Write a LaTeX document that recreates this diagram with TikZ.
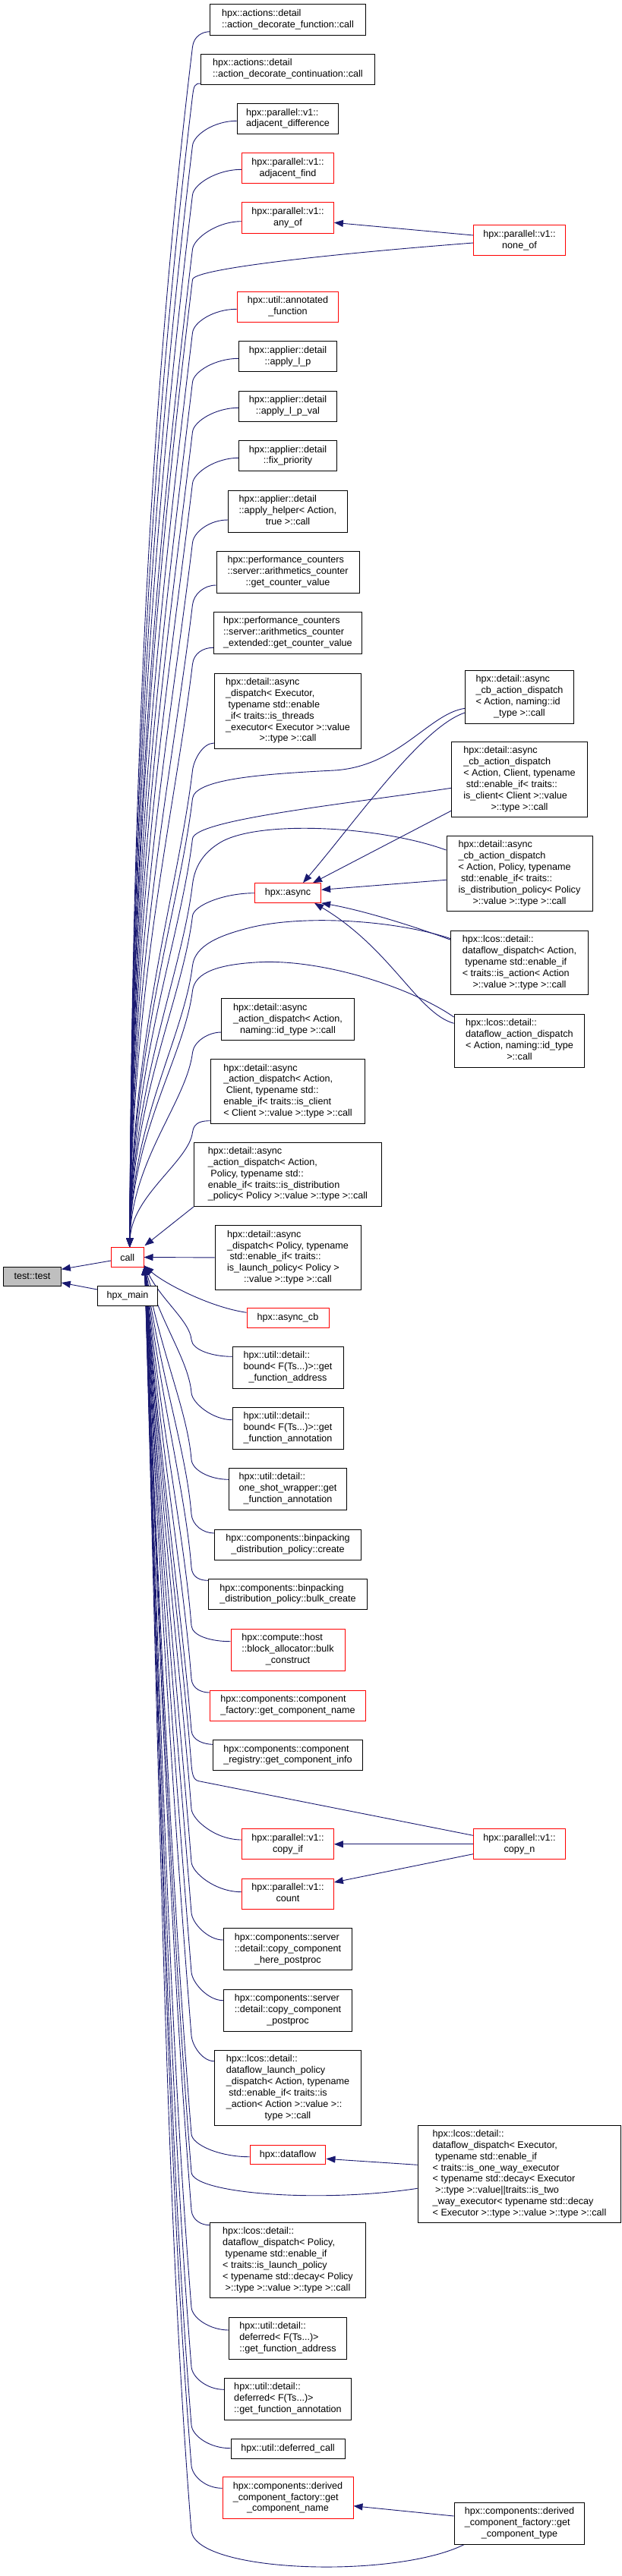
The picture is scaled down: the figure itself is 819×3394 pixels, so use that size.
\documentclass[tikz,border=0pt]{standalone}
\usepackage{fontspec}
\setmainfont{Liberation Sans}
\usetikzlibrary{arrows.meta,calc}
\pgfdeclarelayer{bg}
\pgfsetlayers{bg,main}
\definecolor{edgec}{HTML}{191970}
\definecolor{redc}{HTML}{FF0000}
\definecolor{greyc}{HTML}{BFBFBF}
\newcommand\nf{\fontsize{12.6}{14.9}\selectfont}
\newcommand\lbl[2]{\begin{tabular}{@{}l@{}}#1\\\multicolumn{1}{@{}c@{}}{#2}\end{tabular}}
\newcommand\topT[1]{%
  \pgfmathsetmacro\tD{1643-#1}%
  \pgfmathsetmacro\tCx{253.5-0.03*\tD}%
  \pgfmathsetmacro\tCy{#1+0.25*\tD}%
  \pgfmathsetmacro\tEy{#1+0.55*\tD}%
  \pgfmathsetmacro\tBy{#1-14}}
\newcommand\botT[1]{%
  \pgfmathsetmacro\tD{#1-1669}%
  \pgfmathsetmacro\tCx{252-0.02*\tD}%
  \pgfmathsetmacro\tCy{#1-0.25*\tD}%
  \pgfmathsetmacro\tEy{#1-0.55*\tD}%
  \pgfmathsetmacro\tBy{#1+14}}
\newcommand\upE[4]{%
  \topT{#4}%
  \coordinate (sY) at (0,#2);%
  \draw[conn] (#1.west |- sY) .. controls +(-#3,0) and (255.2,\tBy) .. (253.5,#4) .. controls (\tCx,\tCy) and (174,\tEy) .. (ctop);}
\newcommand\dnE[4]{%
  \botT{#4}%
  \coordinate (sY) at (0,#2);%
  \draw[conn] (#1.west |- sY) .. controls +(-#3,0) and (253.1,\tBy) .. (252,#4) .. controls (\tCx,\tCy) and (212,\tEy) .. (cbot);}
\begin{document}
\begin{tikzpicture}[x=1pt,y=-1pt,
  box/.style={draw=black,line width=1pt,fill=white,inner sep=0pt,font=\nf},
  rbox/.style={box,draw=redc},
  conn/.style={draw=edgec,line width=0.9pt,-{Triangle[length=12pt,width=9pt]}}]
\useasboundingbox (0,0) rectangle (819,3394);
% left
\node[box,fill=greyc,minimum width=75.6pt,minimum height=25.3pt] (tst) at (42.5,1681.7) {test::test};
\node[rbox,minimum width=42.5pt,minimum height=25.6pt] (call) at (167.75,1656.5) {call};
\node[box,minimum width=78.7pt,minimum height=25.7pt] (hmain) at (168,1707.2) {hpx\_main};
% middle column
\node[box,minimum width=204.2pt,minimum height=40.6pt] (a1) at (379,26) {\lbl{hpx::actions::detail}{::action\_decorate\_function::call}};
\node[box,minimum width=228.4pt,minimum height=40.3pt] (a2) at (379,91.2) {\lbl{hpx::actions::detail}{::action\_decorate\_continuation::call}};
\node[box,minimum width=133.9pt,minimum height=40.3pt] (a3) at (379,156.5) {\lbl{hpx::parallel::v1::}{adjacent\_difference}};
\node[rbox,minimum width=120.8pt,minimum height=40.3pt] (a4) at (379,221.8) {\lbl{hpx::parallel::v1::}{adjacent\_find}};
\node[rbox,minimum width=120.8pt,minimum height=40.3pt] (a5) at (379,287) {\lbl{hpx::parallel::v1::}{any\_of}};
\node[rbox,minimum width=133.9pt,minimum height=40pt] (a6) at (379,404.3) {\lbl{hpx::util::annotated}{\_function}};
\node[box,minimum width=129.2pt,minimum height=40.3pt] (a7) at (379,469.8) {\lbl{hpx::applier::detail}{::apply\_l\_p}};
\node[box,minimum width=129.2pt,minimum height=40.3pt] (a8) at (379,535.2) {\lbl{hpx::applier::detail}{::apply\_l\_p\_val}};
\node[box,minimum width=129.2pt,minimum height=40.3pt] (a9) at (379,600.5) {\lbl{hpx::applier::detail}{::fix\_priority}};
\node[box,minimum width=157.4pt,minimum height=55pt] (a10) at (379,673.8) {\lbl{hpx::applier::detail\\::apply\_helper< Action,}{true >::call}};
\node[box,minimum width=188pt,minimum height=55pt] (a11) at (379,753.8) {\lbl{hpx::performance\_counters\\::server::arithmetics\_counter}{::get\_counter\_value}};
\node[box,minimum width=195.2pt,minimum height=55pt] (a12) at (379,833.8) {\lbl{hpx::performance\_counters\\::server::arithmetics\_counter}{\_extended::get\_counter\_value}};
\node[box,minimum width=193.2pt,minimum height=99.3pt] (a13) at (379,936.7) {\lbl{hpx::detail::async\\\_dispatch< Executor,\\\ typename std::enable\\\_if< traits::is\_threads\\\_executor< Executor >::value}{>::type >::call}};
\node[rbox,minimum width=87.2pt,minimum height=25.6pt] (async) at (379,1176.5) {hpx::async};
\node[box,minimum width=174.2pt,minimum height=55pt] (a15) at (379,1343.2) {\lbl{hpx::detail::async\\\_action\_dispatch< Action,}{naming::id\_type >::call}};
\node[box,minimum width=202.6pt,minimum height=84.3pt] (a16) at (379,1437.9) {\lbl{hpx::detail::async\\\_action\_dispatch< Action,\\\ Client, typename std::\\enable\_if< traits::is\_client}{< Client >::value >::type >::call}};
\node[box,minimum width=246.8pt,minimum height=84.3pt] (a17) at (379,1547.2) {\lbl{hpx::detail::async\\\_action\_dispatch< Action,\\\ Policy, typename std::\\enable\_if< traits::is\_distribution}{\_policy< Policy >::value >::type >::call}};
\node[box,minimum width=192pt,minimum height=84.3pt] (a18) at (379,1656.9) {\lbl{hpx::detail::async\\\_dispatch< Policy, typename\\\ std::enable\_if< traits::\\is\_launch\_policy< Policy >}{::value >::type >::call}};
\node[rbox,minimum width=108pt,minimum height=25.6pt] (acb) at (379,1736.5) {hpx::async\_cb};
\node[box,minimum width=146pt,minimum height=55pt] (b1) at (379,1801.8) {\lbl{hpx::util::detail::\\bound< F(Ts...)>::get}{\_function\_address}};
\node[box,minimum width=146pt,minimum height=55pt] (b2) at (379,1881.8) {\lbl{hpx::util::detail::\\bound< F(Ts...)>::get}{\_function\_annotation}};
\node[box,minimum width=154.4pt,minimum height=55pt] (b3) at (379,1961.8) {\lbl{hpx::util::detail::\\one\_shot\_wrapper::get}{\_function\_annotation}};
\node[box,minimum width=193.2pt,minimum height=40.3pt] (b4) at (379,2035.2) {\lbl{hpx::components::binpacking}{\_distribution\_policy::create}};
\node[box,minimum width=209pt,minimum height=40.3pt] (b5) at (379,2100.5) {\lbl{hpx::components::binpacking}{\_distribution\_policy::bulk\_create}};
\node[rbox,minimum width=150pt,minimum height=55pt] (b6) at (379,2173.8) {\lbl{hpx::compute::host\\::block\_allocator::bulk}{\_construct}};
\node[rbox,minimum width=204.8pt,minimum height=40.3pt] (b7) at (379,2247.2) {\lbl{hpx::components::component}{\_factory::get\_component\_name}};
\node[box,minimum width=196.4pt,minimum height=40.3pt] (b8) at (379,2312.5) {\lbl{hpx::components::component}{\_registry::get\_component\_info}};
\node[rbox,minimum width=120.8pt,minimum height=40.3pt] (cpif) at (379,2429.8) {\lbl{hpx::parallel::v1::}{copy\_if}};
\node[rbox,minimum width=120.8pt,minimum height=40.3pt] (cnt) at (379,2495.2) {\lbl{hpx::parallel::v1::}{count}};
\node[box,minimum width=169.5pt,minimum height=55.3pt] (b9) at (379,2568.3) {\lbl{hpx::components::server\\::detail::copy\_component}{\_here\_postproc}};
\node[box,minimum width=169.5pt,minimum height=55pt] (b10) at (379,2648.5) {\lbl{hpx::components::server\\::detail::copy\_component}{\_postproc}};
\node[box,minimum width=193.2pt,minimum height=99.4pt] (b11) at (379,2751) {\lbl{hpx::lcos::detail::\\dataflow\_launch\_policy\\\_dispatch< Action, typename\\\ std::enable\_if< traits::is\\\_action< Action >::value >::}{type >::call}};
\node[rbox,minimum width=99.9pt,minimum height=25.3pt] (dflow) at (379,2839.3) {hpx::dataflow};
\node[box,minimum width=205.3pt,minimum height=98.6pt] (b12) at (379,2978) {\lbl{hpx::lcos::detail::\\dataflow\_dispatch< Policy,\\\ typename std::enable\_if\\< traits::is\_launch\_policy\\< typename std::decay< Policy}{>::type >::value >::type >::call}};
\node[box,minimum width=154.4pt,minimum height=55pt] (b13) at (379,3080.5) {\lbl{hpx::util::detail::\\deferred< F(Ts...)>}{::get\_function\_address}};
\node[box,minimum width=167.5pt,minimum height=55pt] (b14) at (379,3160.5) {\lbl{hpx::util::detail::\\deferred< F(Ts...)>}{::get\_function\_annotation}};
\node[box,minimum width=150pt,minimum height=26pt] (b15) at (379,3226) {hpx::util::deferred\_call};
\node[rbox,minimum width=172pt,minimum height=55.4pt] (b16) at (379,3291) {\lbl{hpx::components::derived\\\_component\_factory::get}{\_component\_name}};
% right column
\node[rbox,minimum width=120.8pt,minimum height=40pt] (r1) at (684,316.7) {\lbl{hpx::parallel::v1::}{none\_of}};
\node[box,minimum width=142.8pt,minimum height=70pt] (r2) at (684,918) {\lbl{hpx::detail::async\\\_cb\_action\_dispatch\\< Action, naming::id}{\_type >::call}};
\node[box,minimum width=179pt,minimum height=99pt] (r3) at (684,1027.2) {\lbl{hpx::detail::async\\\_cb\_action\_dispatch\\< Action, Client, typename\\\ std::enable\_if< traits::\\is\_client< Client >::value}{>::type >::call}};
\node[box,minimum width=192pt,minimum height=99pt] (r4) at (684,1151.2) {\lbl{hpx::detail::async\\\_cb\_action\_dispatch\\< Action, Policy, typename\\\ std::enable\_if< traits::\\is\_distribution\_policy< Policy}{>::value >::type >::call}};
\node[box,minimum width=180.1pt,minimum height=84pt] (r5) at (684,1268.7) {\lbl{hpx::lcos::detail::\\dataflow\_dispatch< Action,\\\ typename std::enable\_if\\< traits::is\_action< Action}{>::value >::type >::call}};
\node[box,minimum width=171.7pt,minimum height=70pt] (r6) at (684,1371.3) {\lbl{hpx::lcos::detail::\\dataflow\_action\_dispatch\\< Action, naming::id\_type}{>::call}};
\node[rbox,minimum width=120.8pt,minimum height=40.3pt] (r7) at (684,2429.8) {\lbl{hpx::parallel::v1::}{copy\_n}};
\node[box,minimum width=267.8pt,minimum height=128.4pt] (r8) at (684,2864.5) {\lbl{hpx::lcos::detail::\\dataflow\_dispatch< Executor,\\\ typename std::enable\_if\\< traits::is\_one\_way\_executor\\< typename std::decay< Executor\\\ >::type >::value||traits::is\_two\\\_way\_executor< typename std::decay}{< Executor >::type >::value >::type >::call}};
\node[box,minimum width=171.6pt,minimum height=55pt] (r9) at (684,3324.5) {\lbl{hpx::components::derived\\\_component\_factory::get}{\_component\_type}};
\coordinate (ctop) at ([xshift=3pt]call.north);
\coordinate (cbot) at ([xshift=1pt,yshift=2pt]call.south east);
\begin{pgfonlayer}{bg}
% to test::test
\draw[conn] ([yshift=-4.5pt]call.west) -- ([yshift=9.4pt]tst.east);
\draw[conn] ([yshift=8.2pt]hmain.west) -- ([yshift=-8.3pt]tst.east);
% middle nodes above call
\upE{a1}{41.7}{10}{61.7}
\upE{a2}{110}{8}{126.7}
\upE{a3}{159.3}{30}{191.7}
\upE{a4}{223.3}{33}{256.7}
\upE{a5}{291.7}{33}{328.3}
\upE{a6}{407.3}{30}{438.3}
\upE{a7}{472.3}{30}{503.3}
\upE{a8}{537.3}{30}{569}
\upE{a9}{603.3}{30}{636.7}
\upE{a10}{685}{24}{715}
\upE{a11}{771}{16}{796.7}
\upE{a12}{853.3}{14}{875}
\upE{a13}{979}{15}{1015}
\upE{async}{1176.7}{40}{1206.7}
\upE{a15}{1360}{18}{1386.7}
\upE{a16}{1476.7}{10}{1491.7}
\draw[conn] (a17.south west) -- ([xshift=1pt,yshift=2pt]call.north east);
\draw[conn] (a18.west) -- (call.east);
% middle nodes below call
\draw[conn] ([yshift=7.2pt]acb.west) .. controls (275,1722) and (215,1690) .. (cbot);
\dnE{b1}{1787.3}{25}{1765}
\dnE{b2}{1870.7}{25}{1835}
\dnE{b3}{1949.3}{25}{1923}
\dnE{b4}{2020}{15}{1995}
\dnE{b5}{2082.3}{10}{2065}
\dnE{b6}{2162.7}{25}{2141.7}
\dnE{b7}{2230}{10}{2211.7}
\dnE{b8}{2298.3}{10}{2280}
\dnE{cpif}{2424}{35}{2383.3}
\dnE{cnt}{2492.7}{35}{2453.3}
\dnE{b9}{2556}{20}{2520}
\dnE{b10}{2635.7}{20}{2598.3}
\dnE{b11}{2715.7}{15}{2681.7}
\dnE{dflow}{2841.7}{40}{2811.7}
\dnE{b12}{2931.7}{10}{2911.7}
\dnE{b13}{3070}{25}{3040}
\dnE{b14}{3148.3}{22}{3118.3}
\dnE{b15}{3225.7}{28}{3195}
\dnE{b16}{3278.3}{22}{3248.3}
% right column edges
\draw[conn] ([yshift=6.7pt]r1.west) -- ([yshift=-6.3pt]a5.east);
\topT{368.3}
\draw[conn] ([yshift=-3.3pt]r1.west) .. controls (430,335) and (255.2,\tBy) .. (253.5,368.3) .. controls (\tCx,\tCy) and (174,\tEy) .. (ctop);
\draw[conn] ([yshift=-21pt]r2.west) .. controls (555,958) and (470,1080) .. ([xshift=20pt]async.north);
\topT{1052}
\draw[conn] ([yshift=-15.3pt]r2.west) .. controls (565,940) and (525,1010) .. (440,1015) .. controls (340,1020) and (256.8,1027) .. (253.5,1052) .. controls (\tCx,\tCy) and (174,\tEy) .. (ctop);
\topT{1105}
\draw[conn] ([yshift=-11.1pt]r3.west) .. controls (450,1060) and (256.5,1080) .. (253.5,1105) .. controls (\tCx,\tCy) and (174,\tEy) .. (ctop);
\draw[conn] ([yshift=-41.1pt]r3.west) -- ([xshift=33pt]async.north);
\topT{1165}
\draw[conn] ([yshift=31.2pt]r4.west) .. controls (500,1088) and (340,1080) .. (290,1110) .. controls (265,1125) and (256,1145) .. (253.5,1165) .. controls (\tCx,\tCy) and (174,\tEy) .. (ctop);
\draw[conn] ([yshift=-8.1pt]r4.west) -- ([yshift=4.2pt]async.east);
\draw[conn] ([yshift=30.4pt]r5.west) .. controls (530,1215) and (470,1198) .. (async.south east);
\topT{1272}
\draw[conn] ([yshift=32pt]r5.west) .. controls (520,1212) and (400,1205) .. (330,1222) .. controls (290,1232) and (257,1245) .. (253.5,1272) .. controls (\tCx,\tCy) and (174,\tEy) .. (ctop);
\topT{1305}
\draw[conn] ([yshift=31.3pt]r6.west) .. controls (540,1300) and (420,1262) .. (336,1268) .. controls (290,1271) and (257,1280) .. (253.5,1305) .. controls (\tCx,\tCy) and (174,\tEy) .. (ctop);
\draw[conn] ([yshift=23pt]r6.west) .. controls (550,1335) and (515,1250) .. ([xshift=35pt]async.south);
\draw[conn] (r7.west) -- (cpif.east);
\draw[conn] ([yshift=-12.9pt]r7.west) -- ([yshift=15.2pt]cnt.east);
\botT{2325}
\draw[conn] ([yshift=11.5pt]r7.west) -- (262,2346.7) .. controls (255,2345.3) and (253.1,2339) .. (252,2325) .. controls (\tCx,\tCy) and (212,\tEy) .. (cbot);
\draw[conn] ([yshift=12.2pt]r8.west) -- ([yshift=-5pt]dflow.east);
\botT{2862}
\draw[conn] ([yshift=-18.8pt]r8.west) .. controls (420,2903) and (253.8,2890) .. (252,2862) .. controls (\tCx,\tCy) and (212,\tEy) .. (cbot);
\draw[conn] ([yshift=9.5pt]r9.west) -- ([yshift=-10.7pt]b16.east);
\botT{3335}
\draw[conn] ([xshift=13.5pt]r9.south west) .. controls (520,3398) and (259.4,3390) .. (252,3335) .. controls (\tCx,\tCy) and (212,\tEy) .. (cbot);
\end{pgfonlayer}
\end{tikzpicture}
\end{document}
